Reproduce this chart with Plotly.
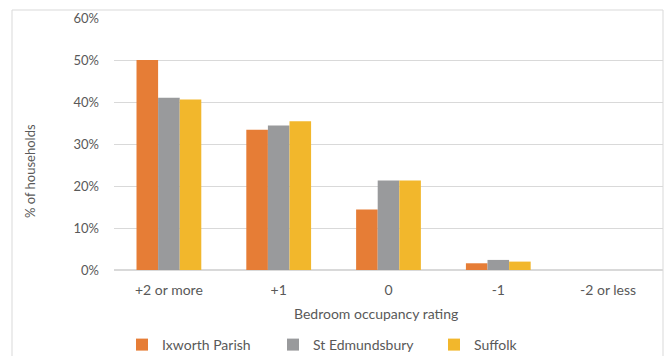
import plotly.graph_objects as go

categories = ["+2 or more", "+1", "0", "-1", "-2 or less"]
ixworth = [50.0, 33.4, 14.4, 1.6, 0.0]
st_edmundsbury = [41.0, 34.4, 21.3, 2.4, 0.0]
suffolk = [40.6, 35.4, 21.3, 2.0, 0.0]
series_names = ["Ixworth Parish", "St Edmundsbury", "Suffolk"]
colors = ["#E67D36", "#999A9C", "#F2B72C"]
tick_vals = [0, 10, 20, 30, 40, 50, 60]
tick_text = ["0%", "10%", "20%", "30%", "40%", "50%", "60%"]
x_title = "Bedroom occupancy rating"
y_title = "% of households"

FONT = "Lato, 'Open Sans', sans-serif"
TXT = "#595959"

W, H, L, R, T, B = 669, 356, 114, 6, 18, 86
pw, ph = W - L - R, H - T - B
def px_x(px):
    return (px - L) / pw
def px_y(py):
    return (H - B - py) / ph

fig = go.Figure()
legend_ids = ["legend", "legend2", "legend3"]
for name, vals, col, lg in zip(series_names, [ixworth, st_edmundsbury, suffolk], colors, legend_ids):
    fig.add_trace(go.Bar(x=categories, y=vals, name=name, marker_color=col,
                         marker_line_width=0, legend=lg, showlegend=True))

legend_x_px = [122, 273, 434]
common_legend = dict(orientation="h", yanchor="middle", xanchor="left", y=px_y(345),
                     font=dict(family=FONT, size=14, color=TXT), bgcolor="rgba(0,0,0,0)",
                     itemwidth=30, tracegroupgap=0, borderwidth=0)

fig.update_layout(
    width=W, height=H,
    margin=dict(l=L, r=R, t=T, b=B, autoexpand=False),
    paper_bgcolor="white", plot_bgcolor="white",
    showlegend=True,
    barmode="group", bargap=0.41, bargroupgap=0,
    font=dict(family=FONT, color=TXT),
    legend=dict(x=px_x(legend_x_px[0]), **common_legend),
    legend2=dict(x=px_x(legend_x_px[1]), **common_legend),
    legend3=dict(x=px_x(legend_x_px[2]), **common_legend),
    xaxis=dict(tickfont=dict(family=FONT, size=14, color=TXT), showline=False, ticks="",
               showgrid=False, ticklabelstandoff=10, automargin=False),
    yaxis=dict(range=[0, 60], tickvals=tick_vals, ticktext=tick_text,
               tickfont=dict(family=FONT, size=13, color=TXT),
               gridcolor="#D9D9D9", gridwidth=1, zeroline=True, zerolinecolor="#D9D9D9",
               showline=False, ticks="", ticklabelstandoff=14, automargin=False),
    annotations=[
        dict(text=x_title, xref="paper", yref="paper", x=px_x(376), y=px_y(313),
             xanchor="center", yanchor="middle", showarrow=False,
             font=dict(family=FONT, size=14, color=TXT)),
        dict(text=y_title, xref="paper", yref="paper", x=px_x(30), y=px_y(171),
             xanchor="center", yanchor="middle", showarrow=False, textangle=-90,
             font=dict(family=FONT, size=13, color=TXT)),
    ],
    shapes=[dict(type="rect", xref="paper", yref="paper",
                 x0=px_x(12), x1=1.0, y0=-0.5, y1=px_y(10),
                 line=dict(color="#D9D9D9", width=1), fillcolor="rgba(0,0,0,0)", layer="below")],
)

fig.write_html("out.html")
